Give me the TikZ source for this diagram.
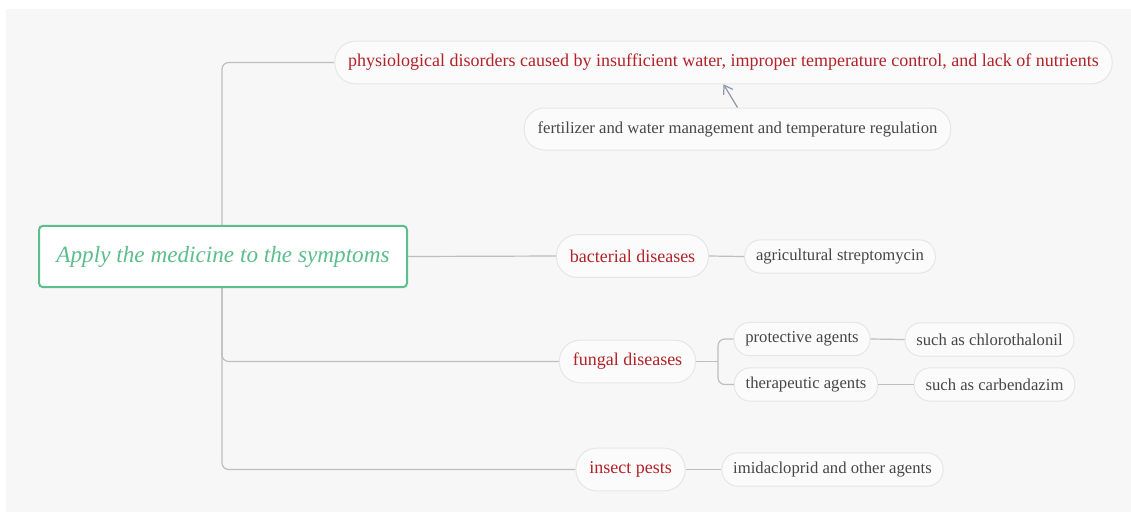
\documentclass[tikz,border=0pt]{standalone}
\usepackage{fontspec}
\setmainfont{Liberation Serif}
\usepackage{tikz}
\usetikzlibrary{arrows.meta, positioning}
\definecolor{bgcol}{RGB}{247,247,247}
\definecolor{nodefill}{RGB}{251,251,251}
\definecolor{nodeline}{RGB}{230,230,230}
\definecolor{redtext}{RGB}{178,34,40}
\definecolor{graytext}{RGB}{70,70,70}
\definecolor{linecol}{RGB}{190,190,190}
\definecolor{rootgreen}{RGB}{92,190,140}
\definecolor{arrowcol}{RGB}{140,152,166}
\pgfdeclarelayer{bg}
\pgfsetlayers{bg,main}
\begin{document}
\begin{tikzpicture}[x=0.75pt, y=-0.75pt]
\tikzstyle{topic}=[draw=nodeline, fill=nodefill, line width=0.75pt, rounded corners=15.5pt, minimum height=32pt, inner xsep=10pt, text=redtext, font=\fontsize{13.5}{16}\selectfont]
\tikzstyle{leaf}=[draw=nodeline, fill=nodefill, line width=0.75pt, rounded corners=12pt, minimum height=25pt, inner xsep=8.5pt, text=graytext, font=\fontsize{12.5}{15}\selectfont]
\tikzstyle{branch}=[draw=linecol, line width=0.9pt, rounded corners=5pt]
\useasboundingbox (0,0) rectangle (1131,512);
\node [draw=rootgreen, fill=white, line width=1.5pt, rounded corners=3pt, minimum width=276pt, minimum height=46pt, text=rootgreen, font=\fontsize{17.4}{20}\selectfont\itshape] (root) at (223,256.5) {Apply the medicine to the symptoms};
\node [topic] (physio) at (723.5,62.5) {physiological disorders caused by insufficient water, improper temperature control, and lack of nutrients};
\node [leaf, minimum height=31.5pt, rounded corners=15pt, inner xsep=10pt] (fert) at (737.5,129) {fertilizer and water management and temperature regulation};
\node [topic] (bact) at (632.5,256) {bacterial diseases};
\node [leaf] (agri) at (840,256.5) {agricultural streptomycin};
\node [topic] (fungal) at (627.5,361.5) {fungal diseases};
\node [leaf] (prot) at (802,339) {protective agents};
\node [leaf] (ther) at (806,384.5) {therapeutic agents};
\node [leaf] (chloro) at (989.5,339.5) {such as chlorothalonil};
\node [leaf] (carb) at (994.5,384.5) {such as carbendazim};
\node [topic] (insect) at (630.5,469.5) {insect pests};
\node [leaf] (imid) at (832.5,469.5) {imidacloprid and other agents};
\coordinate (trunk) at (222,256.5);
\begin{pgfonlayer}{bg}
\fill [bgcol] (6,9) rectangle (1131,512);
\draw [branch] (trunk) |- (physio.west);
\draw [branch] (trunk) |- (fungal.west);
\draw [branch] (trunk) |- (insect.west);
\end{pgfonlayer}
\draw [branch] (root.east) -- (bact.west);
\draw [branch] (bact.east) -- (agri.west);
\draw [branch] (fungal.east) -- ++(22,0) coordinate (fork);
\draw [branch] (fork) |- (prot.west);
\draw [branch] (fork) |- (ther.west);
\draw [branch] (prot.east) -- (chloro.west);
\draw [branch] (ther.east) -- (carb.west);
\draw [branch] (insect.east) -- (imid.west);
\draw [arrowcol, line width=0.9pt, -{Straight Barb[length=6pt, width=8pt]}] (fert.north) -- (physio.south);
\end{tikzpicture}
\end{document}
